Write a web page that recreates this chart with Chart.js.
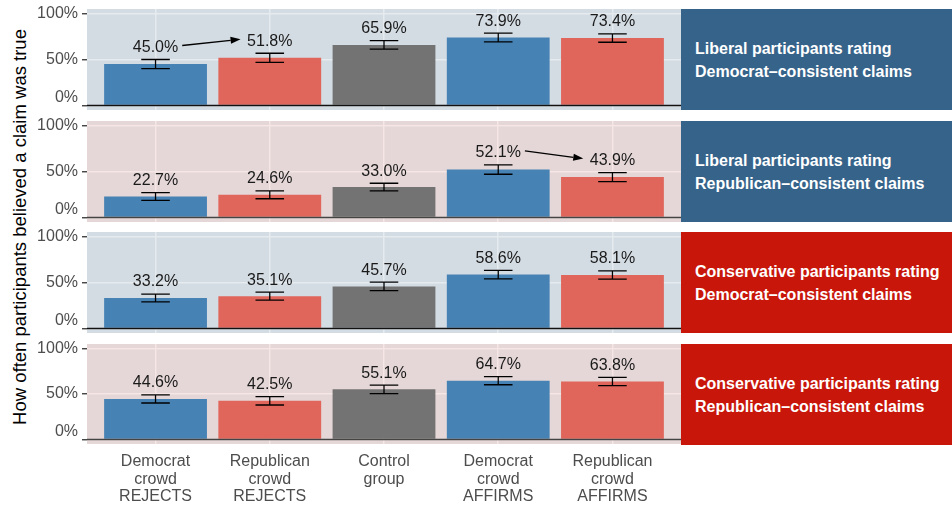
<!DOCTYPE html>
<html><head><meta charset="utf-8">
<script src="https://cdn.jsdelivr.net/npm/chart.js@4"></script>
<style>
body{margin:0;width:952px;height:506px;position:relative;background:#fff;font-family:"Liberation Sans",Arial,sans-serif;overflow:hidden}
.panel{position:absolute;left:30px;width:651px}
.strip{position:absolute;left:681px;width:271px;color:#fff;font-weight:bold;font-size:16px;line-height:23px;display:flex;align-items:center;padding-left:14px;box-sizing:border-box}
#ytitle{position:absolute;left:20px;top:227px;transform:translate(-50%,-50%) rotate(-90deg);white-space:nowrap;font-size:18.5px;color:#000}
</style></head>
<body>
<div id="ytitle">How often participants believed a claim was true</div>
<div class="panel" style="top:-1px;height:121px"><canvas id="c0" width="651" height="121"></canvas></div>
<div class="panel" style="top:111px;height:121px"><canvas id="c1" width="651" height="121"></canvas></div>
<div class="panel" style="top:222px;height:121px"><canvas id="c2" width="651" height="121"></canvas></div>
<div class="panel" style="top:334px;height:172px"><canvas id="c3" width="651" height="172"></canvas></div>
<div class="strip" id="s0" style="top:9px;height:101px;background:#36638a"></div>
<div class="strip" id="s1" style="top:121px;height:101px;background:#36638a"></div>
<div class="strip" id="s2" style="top:232px;height:101px;background:#c8160a"></div>
<div class="strip" id="s3" style="top:344px;height:101px;background:#c8160a"></div>
<script>
// ---- data ----
const categories = [["Democrat","crowd","REJECTS"],["Republican","crowd","REJECTS"],["Control","group"],["Democrat","crowd","AFFIRMS"],["Republican","crowd","AFFIRMS"]];
const panelTitles = [["Liberal participants rating","Democrat\u2013consistent claims"],["Liberal participants rating","Republican\u2013consistent claims"],["Conservative participants rating","Democrat\u2013consistent claims"],["Conservative participants rating","Republican\u2013consistent claims"]];
const liberalDemValues = [45.0, 51.8, 65.9, 73.9, 73.4];
const liberalRepValues = [22.7, 24.6, 33.0, 52.1, 43.9];
const conservDemValues = [33.2, 35.1, 45.7, 58.6, 58.1];
const conservRepValues = [44.6, 42.5, 55.1, 64.7, 63.8];
const liberalDemErr = [5.0, 5.0, 4.7, 4.8, 4.6];
const liberalRepErr = [4.2, 4.3, 4.2, 5.1, 4.9];
const conservDemErr = [4.2, 4.4, 4.6, 4.6, 4.5];
const conservRepErr = [4.5, 4.6, 4.6, 4.5, 4.5];
const yTicks = [0, 25, 50, 75, 100];
const yTickLabels = [["0%", ""], "", "50%", "", "100%"];
// arrows: [panel, fromCategory, toCategory]
const arrows = [[0, 0, 1], [1, 3, 4]];

const barColors = ["#4682b4", "#e0655a", "#737373", "#4682b4", "#e0655a"];
const themes = {
  blue: {bg:"#d4dce3", major:"#e6ebef", minor:"#dde4e9", zero:"#111111"},
  pink: {bg:"#e5d7d7", major:"#f6e6e6", minor:"#eddede", zero:"#444444"}
};
const panels = [
  {values: liberalDemValues, errs: liberalDemErr, theme: themes.blue},
  {values: liberalRepValues, errs: liberalRepErr, theme: themes.pink},
  {values: conservDemValues, errs: conservDemErr, theme: themes.blue},
  {values: conservRepValues, errs: conservRepErr, theme: themes.pink}
];

panelTitles.forEach((t, i) => { document.getElementById('s' + i).innerHTML = t.join('<br>'); });

const FONT = '"Liberation Sans", Arial, sans-serif';

function makePanel(pi) {
  const p = panels[pi];
  const showX = pi === 3;
  const overlay = {
    id: 'overlay' + pi,
    beforeDraw(chart) {
      const a = chart.chartArea, ctx = chart.ctx;
      ctx.save(); ctx.fillStyle = p.theme.bg;
      ctx.fillRect(a.left, a.top, a.right - a.left, a.bottom - a.top);
      ctx.restore();
    },
    afterDatasetsDraw(chart) {
      const ctx = chart.ctx, xs = chart.scales.x, ys = chart.scales.y, a = chart.chartArea;
      ctx.save();
      // zero line
      ctx.strokeStyle = p.theme.zero; ctx.lineWidth = 1.5;
      const y0 = ys.getPixelForValue(0);
      ctx.beginPath(); ctx.moveTo(a.left, y0); ctx.lineTo(a.right, y0); ctx.stroke();
      // error bars
      ctx.strokeStyle = '#000'; ctx.lineWidth = 1.3;
      const labelPos = [];
      p.values.forEach((v, i) => {
        const hi = v + p.errs[i], lo = v - p.errs[i];
        const xc = xs.getPixelForValue(i);
        const xl = xs.getPixelForValue(i - 0.125), xr = xs.getPixelForValue(i + 0.125);
        const yh = ys.getPixelForValue(hi), yl = ys.getPixelForValue(lo);
        ctx.beginPath();
        ctx.moveTo(xl, yh); ctx.lineTo(xr, yh);
        ctx.moveTo(xl, yl); ctx.lineTo(xr, yl);
        ctx.moveTo(xc, yh); ctx.lineTo(xc, yl);
        ctx.stroke();
        labelPos.push({x: xc, y: yh - 12});
      });
      // value labels
      ctx.font = '16px ' + FONT; ctx.fillStyle = '#1a1a1a';
      ctx.textAlign = 'center'; ctx.textBaseline = 'middle';
      const texts = p.values.map(v => v.toFixed(1) + '%');
      texts.forEach((t, i) => ctx.fillText(t, labelPos[i].x, labelPos[i].y));
      // arrows
      arrows.filter(r => r[0] === pi).forEach(r => {
        const f = r[1], to = r[2];
        const wf = ctx.measureText(texts[f]).width, wt = ctx.measureText(texts[to]).width;
        const sx = labelPos[f].x + wf / 2 + 4, sy = labelPos[f].y - 2;
        const ex = labelPos[to].x - wt / 2 - 6.5, ey = labelPos[to].y - 2;
        const ang = Math.atan2(ey - sy, ex - sx), L = 10, W = 3.5;
        const bx = ex - L * Math.cos(ang), by = ey - L * Math.sin(ang);
        ctx.strokeStyle = '#000'; ctx.fillStyle = '#000'; ctx.lineWidth = 1.3;
        ctx.beginPath(); ctx.moveTo(sx, sy); ctx.lineTo(bx, by); ctx.stroke();
        ctx.beginPath();
        ctx.moveTo(ex, ey);
        ctx.lineTo(bx + W * Math.sin(ang), by - W * Math.cos(ang));
        ctx.lineTo(bx - W * Math.sin(ang), by + W * Math.cos(ang));
        ctx.closePath(); ctx.fill();
      });
      ctx.restore();
    }
  };
  return new Chart(document.getElementById('c' + pi), {
    type: 'bar',
    data: {datasets: [{
      data: p.values.map((v, i) => ({x: i, y: v})),
      backgroundColor: barColors,
      borderWidth: 0,
      barPercentage: 0.9,
      categoryPercentage: 1.0
    }]},
    options: {
      responsive: false, animation: false, events: [],
      layout: {padding: {top: 10, bottom: showX ? 0 : 10, left: 0, right: 0}},
      plugins: {legend: {display: false}, tooltip: {enabled: false}},
      scales: {
        x: {
          type: 'linear', min: -0.6, max: 4.6, offset: false,
          afterBuildTicks: ax => { ax.ticks = categories.map((c, i) => ({value: i})); },
          afterFit: ax => { ax.height = showX ? 62 : 0; ax.paddingLeft = 0; ax.paddingRight = 0; },
          ticks: {display: showX, autoSkip: false, maxRotation: 0, padding: 9,
            font: {size: 16, family: FONT, lineHeight: 1.1}, color: '#4d4d4d',
            callback: (v) => categories[v]},
          grid: {color: p.theme.major, lineWidth: 1.5, drawTicks: false, offset: false},
          border: {display: false}
        },
        y: {
          min: -5, max: 105,
          afterBuildTicks: ax => { ax.ticks = yTicks.map(v => ({value: v})); },
          afterFit: ax => { ax.width = 57; ax.paddingTop = 0; ax.paddingBottom = 0; },
          ticks: {padding: 4, font: {size: 16, family: FONT, lineHeight: 1.0}, color: '#4d4d4d',
            callback: (v) => yTickLabels[yTicks.indexOf(v)]},
          grid: {
            color: c => (c.tick && c.tick.value % 50 === 0) ? p.theme.major : p.theme.minor,
            lineWidth: c => (c.tick && c.tick.value % 50 === 0) ? 1.5 : 1,
            drawTicks: true, tickLength: 5, tickColor: '#333333', tickWidth: 1.3
          },
          border: {display: false}
        }
      }
    },
    plugins: [overlay]
  });
}
panels.forEach((p, i) => makePanel(i));
</script>
</body></html>
